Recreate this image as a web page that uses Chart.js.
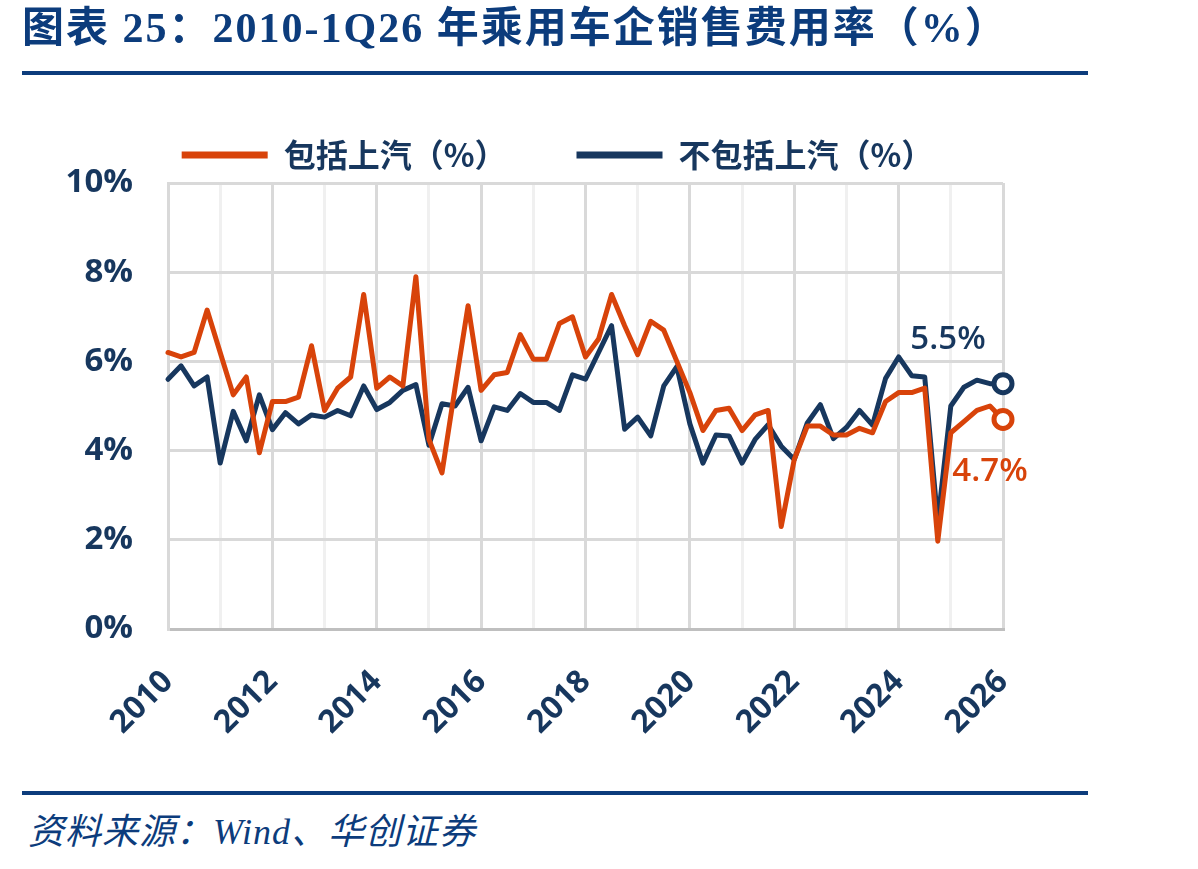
<!DOCTYPE html>
<html>
<head>
<meta charset="utf-8">
<script src="https://cdn.jsdelivr.net/npm/chart.js@4"></script>
<style>
  html, body { margin: 0; padding: 0; background: #fff; }
  body { width: 1198px; height: 869px; position: relative; overflow: hidden; }
  #title {
    position: absolute; left: 22px; top: 4px; z-index: 2;
    font-family: 'Liberation Serif', 'Noto Sans CJK SC', serif;
    font-weight: bold; font-size: 42px; line-height: 48px; color: #0c3c7c;
    letter-spacing: 2px; white-space: nowrap;
  }
  .rule { position: absolute; left: 22px; width: 1066px; height: 4px; background: #0c3c7c; z-index: 2; }
  #source {
    position: absolute; left: 28px; top: 810px; z-index: 2;
    font-family: 'Liberation Serif', 'Noto Sans CJK SC', serif;
    font-style: italic; font-size: 36px; line-height: 44px; color: #0c3c7c;
    letter-spacing: 1px;
  }
  #wrap { position: absolute; left: 0; top: 0; width: 1100px; height: 780px; z-index: 1; }
</style>
</head>
<body>
<div id="title">图表 25：2010-1Q26 年乘用车企销售费用率（%）</div>
<div class="rule" style="top:71px"></div>
<div id="wrap"><canvas id="chart"></canvas></div>
<div class="rule" style="top:791px"></div>
<div id="source">资料来源：Wind、华创证券</div>

<script>
// 季度数据 2010Q1 - 2026Q1
const years = [2010, 2011, 2012, 2013, 2014, 2015, 2016, 2017, 2018, 2019, 2020, 2021, 2022, 2023, 2024, 2025, 2026];
const categories = [];
years.forEach(y => {
  for (let q = 1; q <= 4; q++) {
    if (y === 2026 && q > 1) break;
    categories.push(y + 'Q' + q);
  }
});
const yearTickLabels = ['2010', '2012', '2014', '2016', '2018', '2020', '2022', '2024', '2026'];
const yTickValues = [0, 2, 4, 6, 8, 10];

const seriesNames = ['包括上汽（%）', '不包括上汽（%）'];

const withSaic = [
  6.2, 6.1, 6.2, 7.15, 6.2, 5.25, 5.65, 3.95,
  5.1, 5.1, 5.2, 6.35, 4.9, 5.4, 5.65, 7.5,
  5.4, 5.65, 5.45, 7.9, 4.25, 3.5, 5.4, 7.25,
  5.35, 5.7, 5.75, 6.6, 6.05, 6.05, 6.85, 7.0,
  6.1, 6.5, 7.5, 6.8, 6.15, 6.9, 6.7, 6.0,
  5.3, 4.45, 4.9, 4.95, 4.45, 4.8, 4.9, 2.3,
  3.8, 4.55, 4.55, 4.35, 4.35, 4.5, 4.4, 5.1,
  5.3, 5.3, 5.4, 1.97, 4.4, 4.65, 4.9, 5.0,
  4.7
];
const withoutSaic = [
  5.6, 5.9, 5.45, 5.65, 3.72, 4.88, 4.22, 5.25,
  4.47, 4.85, 4.6, 4.8, 4.75, 4.9, 4.78, 5.45,
  4.92, 5.08, 5.35, 5.48, 4.12, 5.05, 5.0, 5.42,
  4.22, 4.98, 4.9, 5.28, 5.08, 5.08, 4.9, 5.7,
  5.6, 6.2, 6.8, 4.48, 4.75, 4.33, 5.45, 5.88,
  4.6, 3.72, 4.35, 4.33, 3.72, 4.25, 4.58, 4.1,
  3.8, 4.62, 5.03, 4.27, 4.52, 4.9, 4.57, 5.62,
  6.1, 5.68, 5.65, 2.4, 5.0, 5.42, 5.58, 5.5,
  5.5
];

const ORANGE = '#d8430a';
const NAVY = '#17375e';
const last = categories.length - 1;
const LEGEND_SHIFT = 56;

Chart.defaults.font.family = "'Open Sans', 'Noto Sans CJK SC', sans-serif";

// 图例高度固定，控制绘图区顶部位置；整体右移
const legendPlace = {
  id: 'legendPlace',
  beforeInit(chart) {
    const origFit = chart.legend.fit;
    chart.legend.fit = function () {
      origFit.bind(chart.legend)();
      this.height = 114;
    };
  },
  afterUpdate(chart) {
    chart.legend.left += LEGEND_SHIFT;
    chart.legend.right += LEGEND_SHIFT;
  }
};

// 末端数值标注
const endLabels = {
  id: 'endLabels',
  afterDatasetsDraw(chart) {
    const ctx = chart.ctx;
    const offsets = [[-13, 52], [-55, -44]];
    ctx.save();
    ctx.font = "600 33px 'Open Sans', sans-serif";
    ctx.textAlign = 'center';
    ctx.textBaseline = 'middle';
    chart.data.datasets.forEach((ds, i) => {
      const pt = chart.getDatasetMeta(i).data[last];
      ctx.fillStyle = ds.borderColor;
      ctx.fillText(ds.data[last].toFixed(1) + '%', pt.x + offsets[i][0], pt.y + offsets[i][1]);
    });
    ctx.restore();
  }
};

const lastPoint = (c) => c.dataIndex === last ? 9 : 0;

new Chart(document.getElementById('chart'), {
  type: 'line',
  data: {
    labels: categories,
    datasets: [
      {
        label: seriesNames[0],
        data: withSaic,
        borderColor: ORANGE,
        backgroundColor: ORANGE,
        borderWidth: 5,
        borderCapStyle: 'round',
        borderJoinStyle: 'round',
        tension: 0,
        pointRadius: lastPoint,
        pointBorderWidth: 5,
        pointBackgroundColor: '#fff',
        pointBorderColor: ORANGE,
        clip: false
      },
      {
        label: seriesNames[1],
        data: withoutSaic,
        borderColor: NAVY,
        backgroundColor: NAVY,
        borderWidth: 5,
        borderCapStyle: 'round',
        borderJoinStyle: 'round',
        tension: 0,
        pointRadius: lastPoint,
        pointBorderWidth: 5,
        pointBackgroundColor: '#fff',
        pointBorderColor: NAVY,
        clip: false
      }
    ]
  },
  options: {
    responsive: true,
    maintainAspectRatio: false,
    animation: false,
    layout: { padding: { top: 69, right: 97, left: 0, bottom: 0 } },
    plugins: {
      tooltip: { enabled: false },
      legend: {
        position: 'top',
        labels: {
          usePointStyle: true,
          pointStyle: 'line',
          pointStyleWidth: 86,
          boxWidth: 86,
          boxHeight: 32,
          padding: 70,
          color: NAVY,
          font: { family: "'Noto Sans CJK SC', sans-serif", size: 32, weight: 'bold' },
          generateLabels(chart) {
            return Chart.defaults.plugins.legend.labels.generateLabels(chart)
              .map(item => Object.assign(item, { lineWidth: 7 }));
          }
        }
      }
    },
    scales: {
      x: {
        type: 'category',
        afterFit(scale) { scale.height = 151; },
        grid: {
          drawTicks: false,
          color: (c) => c.index % 8 === 0 ? '#d9d9d9' : (c.index % 4 === 0 ? '#f0f0f0' : 'rgba(0,0,0,0)'),
          lineWidth: 3
        },
        border: { color: '#bfbfbf', width: 3 },
        ticks: {
          autoSkip: false,
          minRotation: 45,
          maxRotation: 45,
          padding: 34,
          color: NAVY,
          font: { size: 32, weight: 'bold' },
          callback: function (v, i) {
            const y = categories[i].slice(0, 4);
            return categories[i].endsWith('Q1') && yearTickLabels.includes(y) ? y : '';
          }
        }
      },
      y: {
        min: 0,
        max: 10,
        afterFit(scale) { scale.width = 168; },
        afterBuildTicks(scale) { scale.ticks = yTickValues.map(v => ({ value: v })); },
        grid: { drawTicks: false, color: '#d9d9d9', lineWidth: 3 },
        border: { color: '#d9d9d9', width: 3 },
        ticks: {
          padding: 35,
          color: NAVY,
          font: { size: 33, weight: 'bold' },
          callback: (v) => v + '%'
        }
      }
    }
  },
  plugins: [legendPlace, endLabels]
});
</script>
</body>
</html>
